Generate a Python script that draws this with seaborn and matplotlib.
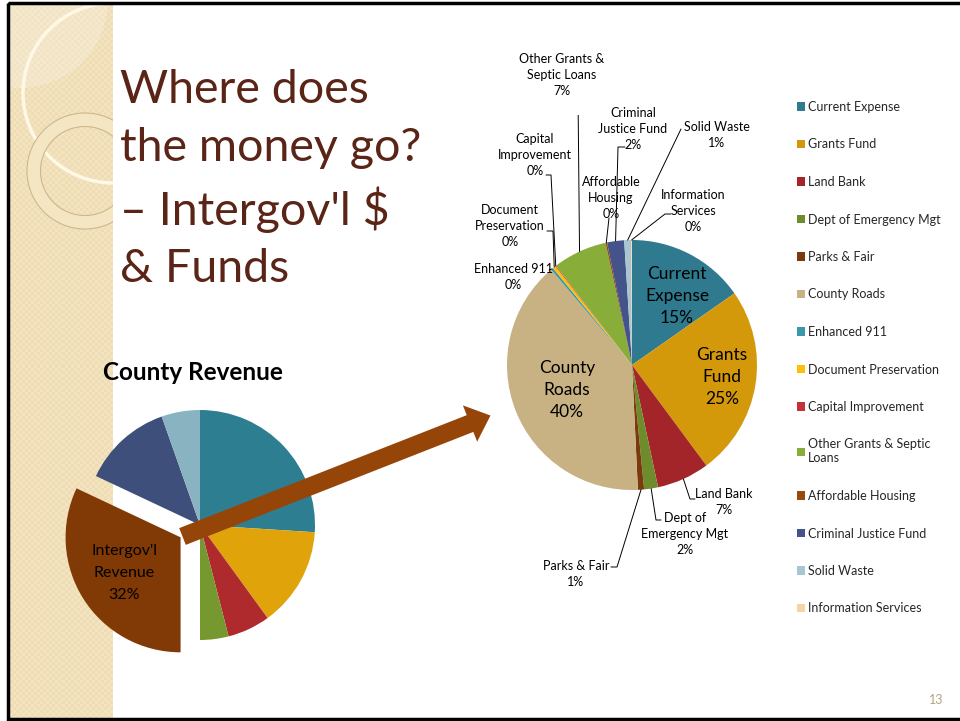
import textwrap
import numpy as np
import matplotlib.pyplot as plt
import matplotlib.patches as mpatches
from matplotlib.colors import ListedColormap
import seaborn as sns

# --- data: where the intergovernmental money goes (right pie) ---
funds = ["Current Expense", "Grants Fund", "Land Bank", "Dept of Emergency Mgt",
         "Parks & Fair", "County Roads", "Enhanced 911", "Document Preservation",
         "Capital Improvement", "Other Grants & Septic Loans", "Affordable Housing",
         "Criminal Justice Fund", "Solid Waste", "Information Services"]
fund_share = [15.3, 24.6, 6.8, 1.8, 0.8, 39.6, 0.3, 0.4, 0.1, 7.0, 0.2, 2.2, 0.9, 0.1]
fund_pct = ["15%", "25%", "7%", "2%", "1%", "40%", "0%", "0%", "0%", "7%", "0%",
            "2%", "1%", "0%"]
fund_names_wrapped = ["Current\nExpense", "Grants\nFund", "Land Bank", "Dept of\nEmergency Mgt",
                      "Parks & Fair", "County\nRoads", "Enhanced 911", "Document\nPreservation",
                      "Capital\nImprovement", "Other Grants &\nSeptic Loans", "Affordable\nHousing",
                      "Criminal\nJustice Fund", "Solid Waste", "Information\nServices"]
fund_colors = ["#2F7A8E", "#D4980B", "#A3252A", "#6F8C2C", "#7A3A0B", "#C8B283",
               "#3A97AC", "#FFBE0A", "#C5313A", "#89AD39", "#954A10", "#44548A",
               "#A7C6D1", "#F9D4A2"]

# --- data: county revenue (left pie), only the intergov'l slice is labelled ---
rev_share = [26.0, 14.0, 6.0, 4.0, 32.0, 12.6, 5.4]
rev_colors = ["#2E7E92", "#E0A30A", "#AE2A2D", "#76992F", "#813A05", "#3F4F7B", "#8AB3C1"]
rev_label = "Intergov'l\nRevenue"
rev_pct = "32%"
rev_highlight = 4

title = "Where does\nthe money go?\n\u2013 Intergov'l $\n& Funds"

sns.set_theme(style="white")
plt.rcParams['font.family'] = ['Lato', 'DejaVu Sans']

W, H = 960, 721
fig = plt.figure(figsize=(9.6, 7.21), dpi=100)
fig.patch.set_facecolor("white")


def frac(x, y, w, h):
    # pixel box (top-left origin) -> figure fraction
    return [x / W, 1 - (y + h) / H, w / W, h / H]


# background: side bar, circles, title
bg = fig.add_axes([0, 0, 1, 1], zorder=0)
bg.set_xlim(0, W)
bg.set_ylim(H, 0)
bg.axis('off')
bar = mpatches.Rectangle((10, 4), 103, 715, transform=bg.transData)
checks = np.indices((238, 34)).sum(0) % 2
bg.imshow(checks, cmap=ListedColormap(["#F3E3C0", "#EEDCB3"]), extent=(10, 113, 719, 4),
          aspect='auto', interpolation='nearest', clip_path=bar)
glow = mpatches.Circle((20, 0), 88, facecolor="white", alpha=0.22, lw=0)
bg.add_patch(glow)
glow.set_clip_path(bar)
arc = mpatches.Circle((113, 93), 90, fill=False, edgecolor="#FFF8E6", lw=2.5)
bg.add_patch(arc)
arc.set_clip_path(bar)
ring = mpatches.Wedge((85, 171), 58, 0, 360, width=13.5, facecolor="#F5E6C3",
                      edgecolor="#CDB88E", lw=0.8)
bg.add_patch(ring)
ring.set_clip_path(bar)
bg.text(120, 69, title, fontsize=33.5, color="#5A2416", va='top', ha='left', linespacing=1.46)
bg.text(193, 372, "County Revenue", fontsize=17.5, fontweight='bold', color="black",
        ha='center', va='center')
bg.text(936, 700, "13", fontsize=9, color="#B5A27E", ha='center', va='center')

# left pie: county revenue
R_LEFT = 115
axl = fig.add_axes(frac(200 - 200, 525 - 200, 400, 400), zorder=1)
lim = 200 / R_LEFT
explode = [0.2 if i == rev_highlight else 0 for i in range(len(rev_share))]
wl, _ = axl.pie(rev_share, colors=rev_colors, startangle=90, counterclock=False,
                explode=explode, wedgeprops=dict(linewidth=0))
axl.set_xlim(-lim, lim)
axl.set_ylim(-lim, lim)
axl.set_aspect('equal')
axl.axis('off')
w = wl[rev_highlight]
mid = np.deg2rad((w.theta1 + w.theta2) / 2)
axl.text(0.78 * np.cos(mid), 0.78 * np.sin(mid), rev_label + "\n" + rev_pct,
         ha='center', va='center', fontsize=11.5, color="black", linespacing=1.75)

# right pie: funds
R_RIGHT = 125
CX, CY = 632, 365
axr = fig.add_axes(frac(CX - 250, CY - 250, 500, 500), zorder=1)
wr, _ = axr.pie(fund_share, colors=fund_colors, startangle=90, counterclock=False,
                wedgeprops=dict(linewidth=0))
axr.set_xlim(-2, 2)
axr.set_ylim(-2, 2)
axr.set_aspect('equal')
axr.axis('off')


def d(px, py):
    return (px - CX) / R_RIGHT, (CY - py) / R_RIGHT


# label block centres and leader line paths, in pixels
label_pos = {
    "Current Expense": (677, 296), "Grants Fund": (722, 377), "County Roads": (567, 390),
    "Land Bank": (724, 502), "Dept of Emergency Mgt": (685, 534), "Parks & Fair": (576, 574),
    "Enhanced 911": (513, 277), "Document Preservation": (510, 226),
    "Capital Improvement": (535, 155), "Other Grants & Septic Loans": (562, 75),
    "Affordable Housing": (611, 198), "Criminal Justice Fund": (633, 129),
    "Solid Waste": (717, 135), "Information Services": (693, 211),
}
leaders = {
    "Land Bank": [(690, 499), (695, 499)],
    "Dept of Emergency Mgt": [(656, 520), (661, 520)],
    "Parks & Fair": [(617, 567), (611, 567)],
    "Enhanced 911": [(549, 270)],
    "Document Preservation": [(553, 231), (547, 231)],
    "Capital Improvement": [(551, 175), (546, 175)],
    "Other Grants & Septic Loans": [(578, 93), (573, 93)],
    "Affordable Housing": [(609, 218)],
    "Criminal Justice Fund": [(618, 147), (625, 147)],
    "Solid Waste": [(681, 129)],
    "Information Services": [(665, 214), (671, 214)],
}
inside = ["Current Expense", "Grants Fund", "County Roads"]

for name, wname, pct, wedge in zip(funds, fund_names_wrapped, fund_pct, wr):
    tx, ty = d(*label_pos[name])
    if name in inside:
        axr.text(tx, ty, wname + "\n" + pct, ha='center', va='center', fontsize=12.5,
                 color="black", linespacing=1.45)
        continue
    axr.text(tx, ty, wname + "\n" + pct, ha='center', va='center', fontsize=9,
             color="black", linespacing=1.38)
    mid = np.deg2rad((wedge.theta1 + wedge.theta2) / 2)
    pts = [(np.cos(mid), np.sin(mid))] + [d(*p) for p in leaders[name]]
    xs, ys = zip(*pts)
    axr.plot(xs, ys, color="black", lw=0.7)

leg = axr.legend(wr, [textwrap.fill(n, 21) for n in funds], loc='upper left',
                 bbox_to_anchor=(797 / W, 1 - 101 / H), bbox_transform=fig.transFigure,
                 frameon=False, fontsize=9, handlelength=0.65, handleheight=0.65,
                 handletextpad=0.25, labelspacing=2.04, borderpad=0, borderaxespad=0)

# overlay: arrow and slide frame
ov = fig.add_axes([0, 0, 1, 1], zorder=5)
ov.set_xlim(0, W)
ov.set_ylim(H, 0)
ov.axis('off')
ov.patch.set_alpha(0)
ov.add_patch(mpatches.FancyArrow(182.5, 536.5, 308, -121, width=18, head_width=39,
                                 head_length=22, length_includes_head=True,
                                 color="#964508", lw=0))
ov.add_patch(mpatches.Rectangle((8, 3), 960, 716, fill=False, edgecolor="black", lw=2.5))

fig.savefig("out.png", dpi=100)
